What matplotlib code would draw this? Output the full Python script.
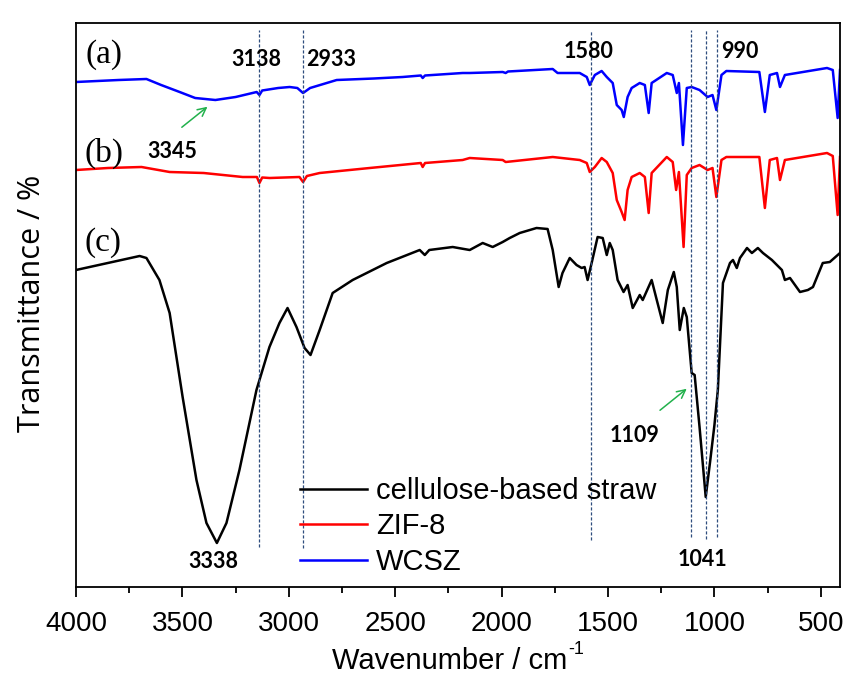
import matplotlib
matplotlib.use("Agg")
import matplotlib.pyplot as plt
from matplotlib.ticker import MultipleLocator

# --- spectra (wavenumber, offset transmittance in arbitrary units) ---

wcsz_wn = [4000, 3800, 3669, 3600, 3513, 3440, 3345, 3250, 3151, 3138, 3125, 3050, 2996,
           2960, 2933, 2900, 2775, 2600, 2465, 2380, 2371, 2360, 2183, 2150, 1995, 1981,
           1970, 1760, 1737, 1633, 1600, 1586, 1562, 1530, 1506, 1478, 1459, 1436, 1426,
           1408, 1389, 1351, 1327, 1309, 1295, 1224, 1196, 1177, 1167, 1148, 1130, 1107,
           1070, 1032, 1009, 991, 967, 944, 789, 763, 740, 706, 692, 669, 471, 444, 421, 410]
wcsz_t = [505, 507, 508, 502, 495, 489, 487, 490, 495, 492, 496.5, 499, 500,
          499, 494, 499, 507, 508.5, 510, 511.5, 509, 511.5, 514, 514, 515, 514,
          515.5, 518, 514, 514, 510, 502, 512, 516, 510, 504, 482, 477, 470,
          490, 499, 504, 502, 474, 504, 514, 512, 494, 504, 442, 499, 500,
          497, 490, 492, 477, 512, 516, 515, 475, 512, 514, 500, 512, 519, 517, 469, 517]

zif_wn = [4000, 3850, 3692, 3560, 3400, 3217, 3150, 3138, 3125, 3090, 2950, 2933, 2915,
          2855, 2620, 2380, 2371, 2360, 2183, 2150, 1995, 1981, 1760, 1633, 1600, 1586,
          1562, 1530, 1506, 1478, 1459, 1436, 1422, 1408, 1389, 1351, 1327, 1309, 1295,
          1224, 1196, 1180, 1167, 1145, 1130, 1107, 1070, 1032, 1009, 991, 967, 944,
          789, 763, 740, 706, 692, 669, 471, 444, 421, 410]
zif_t = [417, 419, 420, 415, 414, 410, 410, 404, 409.5, 409, 410, 405, 411,
         414, 419, 424, 420, 424, 427, 429, 427, 425, 430, 427, 424, 415,
         420, 429, 425, 414, 387, 375, 367, 397, 410, 414, 410, 374, 414,
         430, 425, 397, 415, 340, 412, 419, 422, 417, 419, 390, 427, 430,
         430, 379, 427, 429, 407, 427, 434, 431, 372, 430]

straw_wn = [4000, 3701, 3669, 3608, 3560, 3499, 3434, 3387, 3338, 3293, 3232, 3152, 3091,
            3044, 3006, 2964, 2926, 2898, 2855, 2794, 2700, 2540, 2385, 2361, 2340, 2230,
            2150, 2089, 2042, 1995, 1962, 1915, 1836, 1784, 1760, 1732, 1714, 1680, 1648,
            1624, 1610, 1596, 1577, 1549, 1525, 1506, 1492, 1478, 1455, 1427, 1408, 1384,
            1351, 1337, 1295, 1271, 1243, 1219, 1191, 1177, 1163, 1144, 1130, 1107, 1093,
            1070, 1041, 1020, 1000, 984, 960, 927, 913, 895, 880, 847, 824, 796, 772,
            730, 683, 669, 645, 598, 561, 537, 491, 458, 410]
straw_t = [317, 331, 329, 307, 274, 190, 107, 64, 44, 64, 117, 197, 240,
           264, 279, 260, 239, 232, 257, 294, 307, 324, 337, 332, 337, 340,
           337, 344, 340, 345, 349, 354, 359, 358, 337, 300, 314, 329, 322,
           319, 320, 307, 324, 350, 349, 332, 344, 337, 307, 295, 302, 279,
           292, 287, 307, 287, 264, 297, 315, 300, 257, 279, 270, 214, 212,
           160, 90, 126, 162, 197, 304, 324, 327, 319, 329, 339, 334, 339, 334,
           327, 317, 307, 309, 295, 297, 300, 324, 325, 334]

# marked bands: wavenumber and where each dashed line stops at the bottom
band_wn = [3138, 2933, 1580, 1109, 1041, 990]
band_lo = [40, 39, 47, 50, 48, 50]

peak_labels = ["3138", "2933", "1580", "990", "3338", "1041", "3345", "1109"]
peak_label_xy = [(3152, 527), (2799, 527), (1590, 535), (880, 535),
                 (3357, 25), (1055, 27), (3546, 435), (1374, 152)]

fig = plt.figure(figsize=(8.45, 6.86), dpi=100)
ax = fig.add_axes([76 / 845, 1 - 587 / 686, 764 / 845, 564 / 686])

ax.plot(straw_wn, straw_t, color="black", lw=1.8, label="cellulose-based straw")
ax.plot(zif_wn, zif_t, color="#ff0000", lw=1.8, label="ZIF-8")
ax.plot(wcsz_wn, wcsz_t, color="#0000ff", lw=1.8, label="WCSZ")

for wn, lo in zip(band_wn, band_lo):
    ax.plot([wn, wn], [lo, 557], color="#2e4d7e", lw=0.9, ls=(0, (2.5, 1.5)))

bold = dict(fontfamily="Lato", fontweight="bold", fontsize=15.5, ha="center", va="center")
for txt, (x, y) in zip(peak_labels, peak_label_xy):
    ax.text(x, y, txt, **bold)

green = "#22b14c"
ax.annotate("", xy=(3372, 482), xytext=(3513, 458),
            arrowprops=dict(arrowstyle="->", color=green, lw=1.1, mutation_scale=15))
ax.annotate("", xy=(1120, 200), xytext=(1266, 175),
            arrowprops=dict(arrowstyle="->", color=green, lw=1.1, mutation_scale=15))

serif = dict(fontfamily="Liberation Serif", fontsize=24, ha="center", va="center")
ax.text(3870, 532, "(a)", **serif)
ax.text(3870, 434, "(b)", **serif)
ax.text(3875, 344, "(c)", **serif)

ax.set_xlim(4000, 410)
ax.set_ylim(0, 564)
ax.xaxis.set_major_locator(MultipleLocator(500))
ax.xaxis.set_minor_locator(MultipleLocator(250))
ax.tick_params(axis="x", which="major", direction="out", length=7, width=1.3,
               labelsize=20, pad=10)
ax.tick_params(axis="x", which="minor", direction="out", length=4, width=1.3)
for lab in ax.get_xticklabels():
    lab.set_fontfamily("Liberation Sans")
ax.set_yticks([])
for s in ax.spines.values():
    s.set_linewidth(1.3)

leg = ax.legend(loc="lower left", bbox_to_anchor=((300 - 76) / 764, 0.02),
                frameon=False, borderaxespad=0, borderpad=0, handlelength=2.3,
                handletextpad=0.3, labelspacing=0.25,
                prop=dict(family="Liberation Sans", size=21))

# x label, with a plain hyphen in the superscript as in the original
xl = fig.text(450 / 845, 1 - 661 / 686, "Wavenumber / cm", ha="center", va="center",
              fontfamily="Liberation Sans", fontsize=21)
fig.canvas.draw()
bb = xl.get_window_extent()
fig.text((bb.x1 + 1) / 845, (bb.y1 - 3) / 686, "-1", ha="left", va="center",
         fontfamily="Liberation Sans", fontsize=13)

fig.text(32 / 845, 1 - 303 / 686, "Transmittance / %", ha="center", va="center",
         rotation=90, fontfamily="Open Sans", fontsize=22)

fig.savefig("out.png", dpi=100)
